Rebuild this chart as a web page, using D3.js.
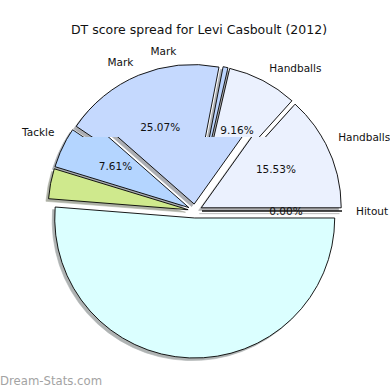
<!DOCTYPE html>
<html>
<head>
<meta charset="utf-8">
<script src="https://cdn.jsdelivr.net/npm/d3@7"></script>
<style>
  body { margin: 0; background: #fff; }
  svg { display: block; }
</style>
</head>
<body>
<svg id="chart" width="390" height="390"></svg>
<script>
// the reference image is two renders stitched at a horizontal seam:
// the upper band shows one slice layout, the lower band another.
// slice order (counterclockwise from 3 o'clock):
// upper: Hitout, Handballs, Handballs, Mark, Mark, Tackle, (green), (cyan)
// lower: Hitout, Handballs, Mark, Tackle, (green), (cyan)
var upperShares = [0, 13.33, 8.06, 0.56, 18.61, 4.58, 3.47, 51.39];
var upperLabels = ["", "", "Handballs", "", "Mark", "", "", ""];
var upperPcts   = ["", "", "9.16%", "", "25.07%", "", "", ""];

var lowerShares = [0, 15.14, 23.39, 6.75, 3.47, 51.25];
var lowerLabels = ["Hitout", "Handballs", "Mark", "Tackle", "", ""];
var lowerPcts   = ["0.00%", "15.53%", "", "7.61%", "", ""];

var upperFills = ["#ffffff", "#ebf1fe", "#ebf1fe", "#bcd4fd", "#c5d9fe", "#b4d5ff", "#cfe98d", "#dbffff"];
var lowerFills = ["#ffffff", "#ebf1fe", "#c5d9fe", "#b4d5ff", "#cfe98d", "#dbffff"];

var width = 390, height = 390,
    cx = 195, cy = 211, radius = 140,
    explode = 7, seam = 137,
    shadowDx = -2.6, shadowDy = 2.6;

var svg = d3.select("#chart");
var defs = svg.append("defs");
defs.append("clipPath").attr("id", "clip-upper")
  .append("rect").attr("x", 0).attr("y", 0).attr("width", width).attr("height", seam);
defs.append("clipPath").attr("id", "clip-lower")
  .append("rect").attr("x", 0).attr("y", seam).attr("width", width).attr("height", height - seam);

// counterclockwise from 3 o'clock, like matplotlib
var pie = d3.pie()
  .sort(null)
  .value(function(d) { return d.share; })
  .startAngle(Math.PI / 2)
  .endAngle(Math.PI / 2 - 2 * Math.PI);

var arc = d3.arc().innerRadius(0).outerRadius(radius);

function offset(d, k) {
  var a = (d.startAngle + d.endAngle) / 2;
  return [Math.sin(a) * k, -Math.cos(a) * k];
}

function shade(c) {
  c = d3.rgb(c);
  return d3.rgb(c.r * 0.3, c.g * 0.3, c.b * 0.3);
}

var textLayer = [];

function drawLayer(shares, labels, pcts, fills, clipId) {
  var data = shares.map(function(s, i) {
    return { share: s, label: labels[i], pct: pcts[i], fill: fills[i] };
  });
  var arcs = pie(data);

  var g = svg.append("g")
    .attr("clip-path", "url(#" + clipId + ")")
    .append("g")
    .attr("transform", "translate(" + cx + "," + cy + ")");

  g.selectAll("path.shadow")
    .data(arcs)
    .enter()
    .append("path")
    .attr("class", "shadow")
    .attr("transform", function(d) {
      var o = offset(d, explode);
      return "translate(" + (o[0] + shadowDx) + "," + (o[1] + shadowDy) + ")";
    })
    .attr("d", arc)
    .attr("fill", function(d) { return shade(d.data.fill); })
    .attr("stroke", function(d) { return shade(d.data.fill); })
    .attr("stroke-width", 0.6)
    .attr("opacity", 0.42);

  g.selectAll("path.wedge")
    .data(arcs)
    .enter()
    .append("path")
    .attr("class", "wedge")
    .attr("transform", function(d) {
      var o = offset(d, explode);
      return "translate(" + o[0] + "," + o[1] + ")";
    })
    .attr("d", arc)
    .attr("fill", function(d) { return d.data.fill; })
    .attr("stroke", "#000")
    .attr("stroke-width", 0.9)
    .attr("stroke-linejoin", "round");

  arcs.forEach(function(d) {
    var o = offset(d, explode);
    var a = (d.startAngle + d.endAngle) / 2;
    if (d.data.label) {
      var lx = o[0] + Math.sin(a) * radius * 1.1,
          ly = o[1] - Math.cos(a) * radius * 1.1;
      textLayer.push({ text: d.data.label, x: cx + lx, y: cy + ly, anchor: lx > 0 ? "start" : "end" });
    }
    if (d.data.pct) {
      var px = o[0] + Math.sin(a) * radius * 0.6,
          py = o[1] - Math.cos(a) * radius * 0.6;
      textLayer.push({ text: d.data.pct, x: cx + px, y: cy + py, anchor: "middle" });
    }
  });
}

drawLayer(upperShares, upperLabels, upperPcts, upperFills, "clip-upper");
drawLayer(lowerShares, lowerLabels, lowerPcts, lowerFills, "clip-lower");

svg.append("g")
  .selectAll("text")
  .data(textLayer)
  .enter()
  .append("text")
  .attr("x", function(d) { return d.x; })
  .attr("y", function(d) { return d.y; })
  .attr("dy", "0.35em")
  .attr("text-anchor", function(d) { return d.anchor; })
  .style("font-family", "DejaVu Sans")
  .style("font-size", "10.5px")
  .style("fill", "#111")
  .text(function(d) { return d.text; });

svg.append("text")
  .attr("x", 199)
  .attr("y", 34)
  .attr("text-anchor", "middle")
  .style("font-family", "DejaVu Sans")
  .style("font-size", "12.5px")
  .style("fill", "#111")
  .text("DT score spread for Levi Casboult (2012)");

svg.append("text")
  .attr("x", 0)
  .attr("y", 385)
  .style("font-family", "DejaVu Sans")
  .style("font-size", "11.7px")
  .style("fill", "#a3a3a3")
  .text("Dream-Stats.com");
</script>
</body>
</html>
